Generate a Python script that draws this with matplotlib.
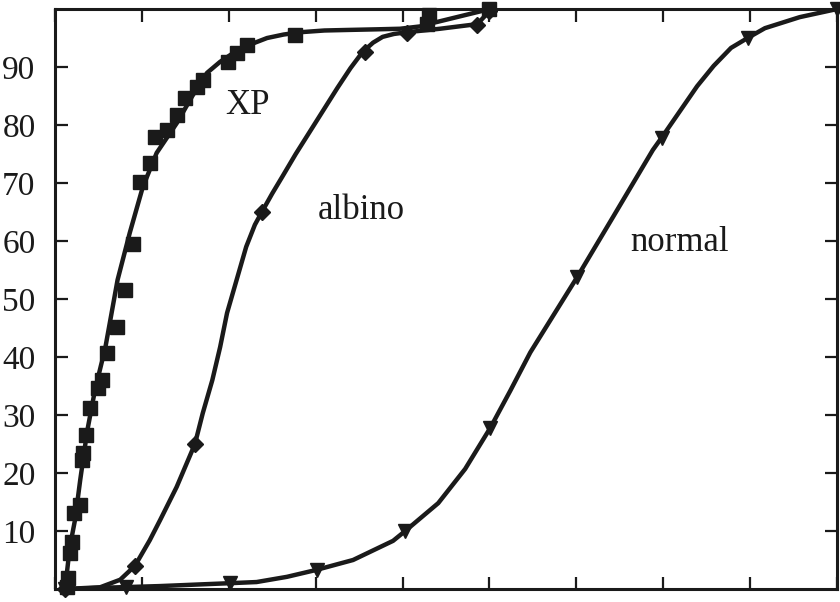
import numpy as np
import matplotlib
matplotlib.use("Agg")
import matplotlib.pyplot as plt

# ---------- data ----------
# XP: measured points (squares) and the drawn smooth curve
xp_x = [0.14, 0.15, 0.17, 0.20, 0.22, 0.29, 0.31, 0.32, 0.36, 0.40, 0.49, 0.54,
        0.60, 0.71, 0.81, 0.90, 0.98, 1.09, 1.15, 1.29, 1.40, 1.50, 1.63, 1.70,
        1.99, 2.09, 2.21, 2.76, 4.28, 4.30, 5.00]
xp_y = [0.3, 1.9, 6.2, 8.1, 13.1, 14.5, 22.2, 23.4, 26.6, 31.2, 34.7, 36.0,
        40.7, 45.2, 51.6, 59.5, 70.2, 73.4, 77.9, 79.1, 81.7, 84.7, 86.6, 87.8,
        90.9, 92.4, 93.8, 95.5, 97.5, 99.0, 100.0]
xp_curve_x = [0.09, 0.13, 0.17, 0.23, 0.29, 0.37, 0.46, 0.58, 0.72, 0.86, 1.01,
              1.17, 1.40, 1.58, 1.75, 1.90, 2.05, 2.25, 2.44, 2.63, 2.82, 3.10,
              3.39, 3.70, 3.97, 4.20, 4.35, 4.65, 4.95]
xp_curve_y = [0.2, 1.9, 7.2, 11.9, 18.8, 27.2, 34.3, 41.7, 53.3, 61.4, 69.3,
              75.2, 80.3, 85.0, 89.0, 90.9, 92.4, 93.9, 95.0, 95.6, 96.0, 96.3,
              96.4, 96.5, 96.6, 97.0, 97.6, 98.7, 99.8]

# albino: diamonds and curve
alb_x = [0.12, 0.92, 1.61, 2.38, 3.57, 4.05, 4.86, 5.00]
alb_y = [0.0, 4.0, 25.0, 65.0, 92.6, 95.9, 97.2, 99.6]
alb_curve_x = [0.12, 0.52, 0.75, 0.92, 1.09, 1.21, 1.40, 1.61, 1.70, 1.81, 1.90,
               1.98, 2.09, 2.20, 2.30, 2.38, 2.50, 2.62, 2.77, 2.93, 3.09, 3.25,
               3.40, 3.54, 3.66, 3.77, 3.90, 4.05, 4.43, 4.86, 5.01]
alb_curve_y = [0.0, 0.3, 1.6, 4.0, 8.4, 11.9, 17.6, 25.0, 30.3, 36.0, 41.7,
               47.6, 53.3, 59.0, 62.8, 65.0, 68.2, 71.2, 75.0, 78.8, 82.6, 86.4,
               89.8, 92.6, 94.2, 95.2, 95.7, 96.0, 96.6, 97.4, 99.8]

# normal: down triangles and curve
norm_x = [0.12, 0.82, 2.01, 3.01, 4.03, 5.01, 6.01, 6.98, 7.97, 9.00]
norm_y = [0.0, 0.3, 1.0, 3.3, 10.0, 27.8, 53.8, 77.8, 95.0, 100.0]
norm_curve_x = [0.12, 0.52, 1.20, 2.01, 2.32, 2.67, 3.01, 3.43, 3.89, 4.03,
                4.41, 4.72, 5.01, 5.24, 5.47, 6.01, 6.42, 6.88, 6.98, 7.39,
                7.58, 7.78, 7.97, 8.17, 8.57, 9.00]
norm_curve_y = [0.0, 0.2, 0.5, 1.0, 1.2, 2.1, 3.3, 5.0, 8.3, 10.0, 14.8, 20.7,
                27.8, 34.2, 40.8, 53.8, 64.1, 75.7, 77.8, 86.7, 90.2, 93.3,
                95.0, 96.7, 98.6, 100.0]

y_ticks = [10, 20, 30, 40, 50, 60, 70, 80, 90]

plt.rcParams['font.family'] = ['Liberation Serif', 'DejaVu Serif']

fig = plt.figure(figsize=(8.4, 6.02), dpi=100)
ax = fig.add_axes([0.0655, 0.0216, 0.931, 0.9634])

ink = '#1a1a1a'

# ---------- curves ----------
for cx, cy in [(xp_curve_x, xp_curve_y), (alb_curve_x, alb_curve_y),
               (norm_curve_x, norm_curve_y)]:
    ax.plot(cx, cy, color=ink, lw=3.2, solid_joinstyle='round',
            solid_capstyle='round')

# ---------- markers ----------
ax.plot(xp_x, xp_y, ls='none', marker='s', ms=10, color=ink, clip_on=False)
ax.plot(alb_x, alb_y, ls='none', marker='D', ms=8, color=ink, clip_on=False)
ax.plot(norm_x, norm_y, ls='none', marker='v', ms=10, color=ink, clip_on=False)

# ---------- labels ----------
ax.text(2.22, 83.4, "XP", fontsize=25, ha='center', va='center', color=ink)
ax.text(3.53, 65.3, "albino", fontsize=25, ha='center', va='center', color=ink)
ax.text(7.19, 59.8, "normal", fontsize=25, ha='center', va='center', color=ink)

# ---------- axes ----------
ax.set_xlim(0, 9)
ax.set_ylim(0, 100)
ax.set_xticks(range(0, 10))
ax.set_xticklabels([])
ax.set_yticks(y_ticks)
ax.set_yticklabels([str(t) for t in y_ticks], fontsize=24)
ax.tick_params(direction='in', length=9, width=1.6, top=True, right=True,
               pad=14, colors=ink)
for s in ax.spines.values():
    s.set_linewidth(2.2)
    s.set_color(ink)

fig.savefig("out.png", dpi=100)
